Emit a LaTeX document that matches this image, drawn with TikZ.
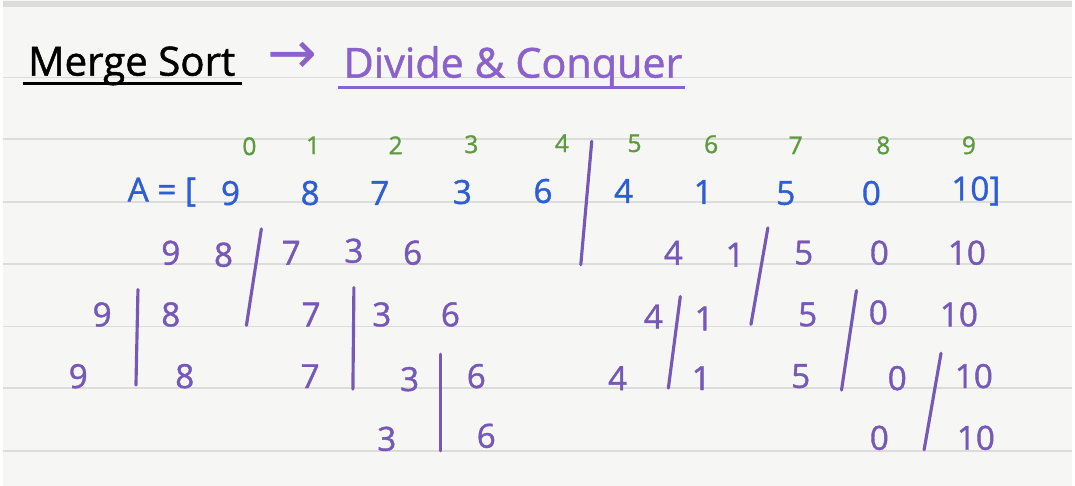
\documentclass[tikz,border=0pt]{standalone}
\usepackage{fontspec}
\setmainfont{Open Sans}
\newfontfamily\hand{Open Sans}[FakeBold=1.2]
\newfontfamily\symb{DejaVu Sans}

\definecolor{paper}{HTML}{F6F6F4}
\definecolor{ruleline}{HTML}{DCDCDA}
\definecolor{idxgreen}{HTML}{5E9B3E}
\definecolor{arrblue}{HTML}{2E5ED6}
\definecolor{splitpurple}{HTML}{7558B8}
\definecolor{topicpurple}{HTML}{8B62CC}

\begin{document}
\begin{tikzpicture}[x=0.01cm,y=-0.01cm,
  index/.style={text=idxgreen,font=\hand\fontsize{7}{8}\selectfont,inner sep=0pt},
  elem/.style={text=arrblue,font=\hand\fontsize{9.5}{12}\selectfont,inner sep=0pt},
  part/.style={text=splitpurple,font=\hand\fontsize{9.5}{12}\selectfont,inner sep=0pt},
  cut/.style={draw=splitpurple,line width=0.9pt,line cap=round}]
  % Paper and ruling
  \fill[paper] (0,0) rectangle (1075,488);
  \draw[ruleline,line width=1.5pt] (0,4) -- (1075,4);
  \foreach \y in {78,140,203,265,328,390,453}
    \draw[ruleline,line width=0.5pt] (0,\y) -- (1075,\y);

  % Heading
  \node[anchor=base west,inner sep=0pt,font=\hand\fontsize{11.5}{14}\selectfont] (title) at (25,76) {Merge Sort};
  \node[anchor=base west,inner sep=0pt,text=topicpurple,font=\hand\fontsize{11.8}{14}\selectfont] (topic) at (342,78) {Divide \& Conquer};
  \node[text=topicpurple,inner sep=0pt,font=\symb\fontsize{17}{18}\selectfont] (goes) at (291,58) {→};
  \coordinate (tl) at (20,84);
  \coordinate (tr) at (241,84);
  \coordinate (dl) at (337,88);
  \coordinate (dr) at (686,88);
  \draw[line width=0.9pt] (tl) -- (tr);
  \draw[topicpurple,line width=0.9pt] (dl) -- (dr);

  % Indices
  \node[index] (i0) at (248,147) {0};
  \node[index] (i1) at (312,146) {1};
  \node[index] (i2) at (395,146) {2};
  \node[index] (i3) at (471,145) {3};
  \node[index] (i4) at (562,144) {4};
  \node[index] (i5) at (635,144) {5};
  \node[index] (i6) at (712,145) {6};
  \node[index] (i7) at (797,146) {7};
  \node[index] (i8) at (885,146) {8};
  \node[index] (i9) at (971,146) {9};

  % The array A
  \node[elem] (lhs) at (160,193) {A = [};
  \node[elem] (a0) at (229,194) {9};
  \node[elem] (a1) at (309,194) {8};
  \node[elem] (a2) at (379,194) {7};
  \node[elem] (a3) at (462,193) {3};
  \node[elem] (a4) at (543,192) {6};
  \node[elem] (a5) at (624,192) {4};
  \node[elem] (a6) at (704,193) {1};
  \node[elem] (a7) at (787,194) {5};
  \node[elem] (a8) at (873,194) {0};
  \node[elem] (a9) at (978,192) {10]};

  % First split
  \node[part] (b0) at (169,254) {9};
  \node[part] (b1) at (222,256) {8};
  \node[part] (b2) at (290,254) {7};
  \node[part] (b3) at (353,252) {3};
  \node[part] (b4) at (412,254) {6};
  \node[part] (b5) at (674,254) {4};
  \node[part] (b6) at (736,256) {1};
  \node[part] (b7) at (805,254) {5};
  \node[part] (b8) at (881,254) {0};
  \node[part] (b9) at (969,254) {10};

  % Second split
  \node[part] (c0) at (100,316) {9};
  \node[part] (c1) at (169,316) {8};
  \node[part] (c2) at (310,316) {7};
  \node[part] (c3) at (381,316) {3};
  \node[part] (c4) at (450,316) {6};
  \node[part] (c5) at (654,318) {4};
  \node[part] (c6) at (705,320) {1};
  \node[part] (c7) at (809,316) {5};
  \node[part] (c8) at (880,314) {0};
  \node[part] (c9) at (961,316) {10};

  % Third split
  \node[part] (d0) at (76,378) {9};
  \node[part] (d1) at (183,378) {8};
  \node[part] (d2) at (309,378) {7};
  \node[part] (d3) at (409,381) {3};
  \node[part] (d4) at (476,378) {6};
  \node[part] (d5) at (618,380) {4};
  \node[part] (d6) at (702,380) {1};
  \node[part] (d7) at (802,378) {5};
  \node[part] (d8) at (899,380) {0};
  \node[part] (d9) at (976,378) {10};

  % Last split
  \node[part] (e0) at (386,441) {3};
  \node[part] (e1) at (486,438) {6};
  \node[part] (e2) at (881,440) {0};
  \node[part] (e3) at (978,440) {10};

  % Dividing strokes
  \coordinate (m0t) at (592,142);  \coordinate (m0b) at (581,266);
  \coordinate (m1t) at (260,230);  \coordinate (m1b) at (245,327);
  \coordinate (m2t) at (769,229);  \coordinate (m2b) at (752,326);
  \coordinate (m3t) at (136,291);  \coordinate (m3b) at (134,387);
  \coordinate (m4t) at (353,289);  \coordinate (m4b) at (352,391);
  \coordinate (m5t) at (681,298);  \coordinate (m5b) at (669,390);
  \coordinate (m6t) at (858,292);  \coordinate (m6b) at (843,392);
  \coordinate (m7t) at (440,356);  \coordinate (m7b) at (440,453);
  \coordinate (m8t) at (943,355);  \coordinate (m8b) at (926,452);
  \draw[cut] (m0t) -- (m0b);
  \draw[cut] (m1t) -- (m1b);
  \draw[cut] (m2t) -- (m2b);
  \draw[cut] (m3t) -- (m3b);
  \draw[cut] (m4t) -- (m4b);
  \draw[cut] (m5t) -- (m5b);
  \draw[cut] (m6t) -- (m6b);
  \draw[cut] (m7t) -- (m7b);
  \draw[cut] (m8t) -- (m8b);
\end{tikzpicture}
\end{document}
